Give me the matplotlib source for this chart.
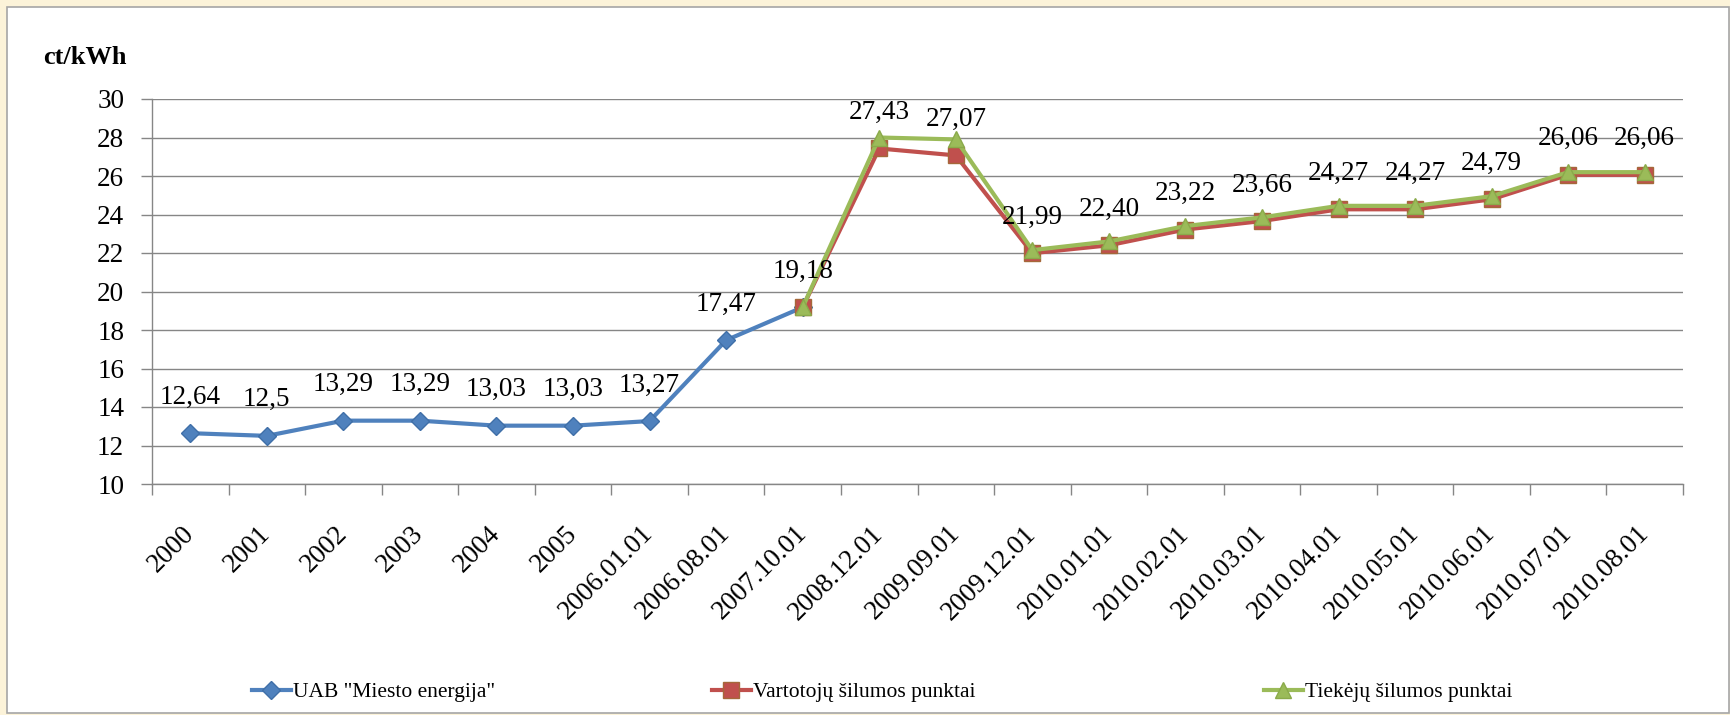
import numpy as np
import matplotlib.pyplot as plt
from matplotlib.patches import Rectangle

plt.rcParams['font.family'] = ['Liberation Serif', 'DejaVu Serif']

categories = ['2000', '2001', '2002', '2003', '2004', '2005',
              '2006.01.01', '2006.08.01', '2007.10.01', '2008.12.01',
              '2009.09.01', '2009.12.01', '2010.01.01', '2010.02.01',
              '2010.03.01', '2010.04.01', '2010.05.01', '2010.06.01',
              '2010.07.01', '2010.08.01']

# UAB "Miesto energija" (2000 .. 2007.10.01)
miesto_energija = [12.64, 12.5, 13.29, 13.29, 13.03, 13.03, 13.27, 17.47, 19.18]
# Vartotoju silumos punktai (2007.10.01 .. 2010.08.01)
vartotoju = [19.18, 27.43, 27.07, 21.99, 22.40, 23.22, 23.66, 24.27, 24.27, 24.79, 26.06, 26.06]
# Tiekeju silumos punktai (2007.10.01 .. 2010.08.01)
tiekeju = [19.18, 28.0, 27.9, 22.15, 22.6, 23.4, 23.85, 24.45, 24.45, 24.95, 26.2, 26.2]

value_labels = ['12,64', '12,5', '13,29', '13,29', '13,03', '13,03', '13,27', '17,47',
                '19,18', '27,43', '27,07', '21,99', '22,40', '23,22', '23,66',
                '24,27', '24,27', '24,79', '26,06', '26,06']

legend_names = ['UAB "Miesto energija"', 'Vartotojų šilumos punktai', 'Tiekėjų šilumos punktai']

W, H = 1731, 715
fig = plt.figure(figsize=(W / 100, H / 100), dpi=100)
fig.patch.set_facecolor('#FCF3D9')
fig.patches.append(Rectangle((7 / W, 2 / H), (W - 9) / W, (H - 9) / H, transform=fig.transFigure,
                             facecolor='white', edgecolor='#A6A6A6', lw=1.2, zorder=-10))

ax = fig.add_axes([152 / W, 1 - 484 / H, (1683 - 152) / W, (484 - 99) / H])
ax.set_facecolor('none')
ax.set_zorder(2)

grey = '#868686'
x = np.arange(len(categories))
x_blue = x[:len(miesto_energija)]
x_new = x[len(miesto_energija) - 1:]

l1, = ax.plot(x_blue, miesto_energija, color='#4F81BD', lw=3.0, marker='D', ms=9.5,
              markerfacecolor='#4F81BD', markeredgecolor='#3F6FA8', zorder=3)
l2, = ax.plot(x_new, vartotoju, color='#C0504D', lw=3.0, marker='s', ms=11,
              markerfacecolor='#C0504D', markeredgecolor='#A5683A', zorder=4)
l3, = ax.plot(x_new, tiekeju, color='#9BBB59', lw=3.0, marker='^', ms=11,
              markerfacecolor='#9BBB59', markeredgecolor='#8AAA4A', zorder=5)

label_y = miesto_energija[:-1] + vartotoju
for xi, yi, lbl in zip(x, label_y, value_labels):
    ax.annotate(lbl, (xi, yi), xytext=(0, 26), textcoords='offset points',
                ha='center', va='center', fontsize=19.5, zorder=6)

ax.set_xlim(-0.5, len(categories) - 0.5)
ax.set_ylim(10, 30)
ax.set_yticks(np.arange(10, 31, 2))
ax.yaxis.grid(True, color=grey, lw=1.0)
ax.set_axisbelow(True)

ax.set_xticks(x)
ax.set_xticklabels(categories, rotation=45, ha='right', va='center', rotation_mode='anchor')
ax.set_xticks(np.arange(-0.5, len(categories), 1), minor=True)
ax.tick_params(axis='x', which='major', length=0, pad=33, labelsize=19.5)
ax.tick_params(axis='x', which='minor', length=8, color=grey, width=1.0)
ax.tick_params(axis='y', length=8, color=grey, width=1.0, pad=12, labelsize=19.5)

for s in ['top', 'right']:
    ax.spines[s].set_visible(False)
for s in ['left', 'bottom']:
    ax.spines[s].set_color(grey)
    ax.spines[s].set_linewidth(1.0)

fig.text(127 / W, 1 - 58 / H, 'ct/kWh', ha='right', va='center', fontsize=19, fontweight='bold')

for h, name, xpos in zip([l1, l2, l3], legend_names, [252, 712, 1264]):
    fig.legend([h], [name], loc='center left', bbox_to_anchor=(xpos / W, 1 - 692 / H),
               frameon=False, fontsize=15.5, handlelength=1.8, handletextpad=0.1,
               borderpad=0, borderaxespad=0)

fig.savefig('out.png', dpi=100, facecolor=fig.get_facecolor())
